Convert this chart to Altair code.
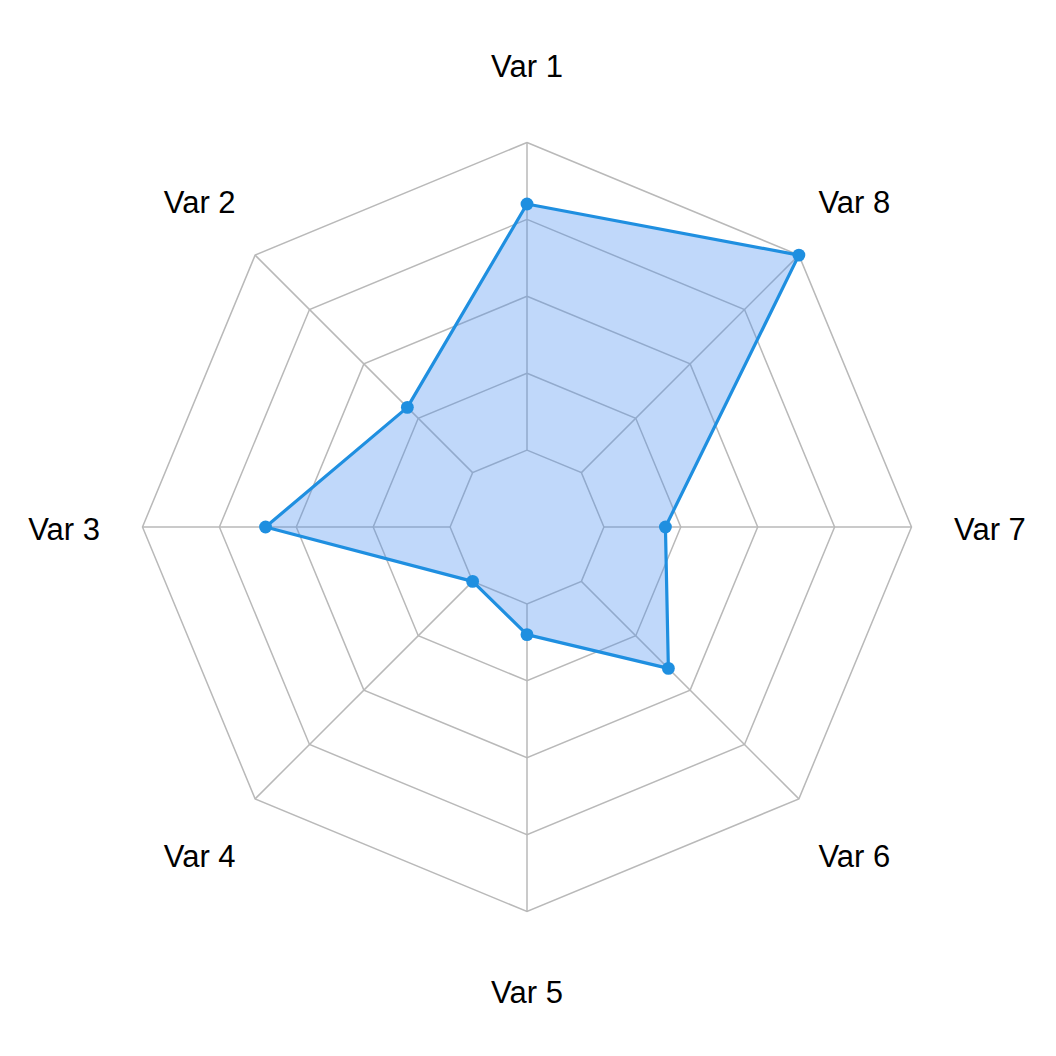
import altair as alt
import pandas as pd

# Radar chart: eight variables on a 0-10 scale, four grid segments,
# with the scale's minimum drawn on the innermost ring (fmsb style).
variables = ["Var 1", "Var 2", "Var 3", "Var 4", "Var 5", "Var 6", "Var 7", "Var 8"]
values = [8, 3, 6, 0, 1, 4, 2, 10]
v_min, v_max = 0, 10
segments = 4
ring_levels = [1, 2, 3, 4, 5]     # ring radii in plot units; 1 = minimum, 5 = maximum
label_radius = 6.02

# pixel geometry of the square canvas
SIZE = 1056
CENTER = 527
UNIT = 76.9
x_dom = [-CENTER / UNIT, (SIZE - CENTER) / UNIT]
y_dom = [-(SIZE - CENTER) / UNIT, CENTER / UNIT]

n = len(variables)
line_col = "#1f8fe0"
grid_col = "#b9b9b9"

x_scale = alt.Scale(domain=x_dom, nice=False, zero=False)
y_scale = alt.Scale(domain=y_dom, nice=False, zero=False)
X = alt.X("x:Q", scale=x_scale, axis=None)
Y = alt.Y("y:Q", scale=y_scale, axis=None)

# grid rings (closed octagons)
rings = pd.DataFrame(
    [{"ring": k, "idx": i, "r": k} for k in ring_levels for i in range(n + 1)]
)
ring_layer = (
    alt.Chart(rings)
    .transform_calculate(ang=f"PI / 2 + 2 * PI * datum.idx / {n}")
    .transform_calculate(x="datum.r * cos(datum.ang)", y="datum.r * sin(datum.ang)")
    .mark_line(color=grid_col, strokeWidth=1.5)
    .encode(x=X, y=Y, detail="ring:N", order="idx:Q")
)

# spokes from the innermost ring to the outer ring
spokes = pd.DataFrame({"idx": list(range(n))})
spoke_layer = (
    alt.Chart(spokes)
    .transform_calculate(ang=f"PI / 2 + 2 * PI * datum.idx / {n}")
    .transform_calculate(
        x=f"{ring_levels[0]} * cos(datum.ang)",
        y=f"{ring_levels[0]} * sin(datum.ang)",
        x2=f"{ring_levels[-1]} * cos(datum.ang)",
        y2=f"{ring_levels[-1]} * sin(datum.ang)",
    )
    .mark_rule(color=grid_col, strokeWidth=1.5)
    .encode(x=X, y=Y, x2="x2:Q", y2="y2:Q")
)

# data polygon
data = pd.DataFrame({"variable": variables, "value": values, "idx": list(range(n))})
closed = pd.concat([data, data.iloc[[0]].assign(idx=n)], ignore_index=True)

radius_expr = (
    f"{ring_levels[0]} + {segments} * (datum.value - {v_min}) / ({v_max} - {v_min})"
)

fill_layer = (
    alt.Chart(closed)
    .transform_calculate(r=radius_expr)
    .transform_calculate(ang=f"PI / 2 + 2 * PI * datum.idx / {n}")
    .transform_calculate(x="datum.r * cos(datum.ang)", y="datum.r * sin(datum.ang)")
    .mark_line(fill="#4a8ff2", fillOpacity=0.35, stroke=line_col, strokeWidth=3.2,
               strokeJoin="round")
    .encode(x=X, y=Y, order="idx:Q")
)

point_layer = (
    alt.Chart(data)
    .transform_calculate(r=radius_expr)
    .transform_calculate(ang=f"PI / 2 + 2 * PI * datum.idx / {n}")
    .transform_calculate(x="datum.r * cos(datum.ang)", y="datum.r * sin(datum.ang)")
    .mark_circle(color=line_col, size=165, opacity=1)
    .encode(x=X, y=Y)
)

# variable labels outside the outer ring
label_layer = (
    alt.Chart(data)
    .transform_calculate(ang=f"PI / 2 + 2 * PI * datum.idx / {n}")
    .transform_calculate(
        x=f"{label_radius} * cos(datum.ang)", y=f"{label_radius} * sin(datum.ang)"
    )
    .mark_text(font="Liberation Sans", fontSize=31, color="black",
               align="center", baseline="middle", dy=4)
    .encode(x=X, y=Y, text="variable:N")
)

chart = (
    alt.layer(ring_layer, spoke_layer, fill_layer, point_layer, label_layer)
    .properties(width=SIZE, height=SIZE, padding=0, autosize="none", background="white")
    .configure_view(stroke=None)
)

chart.save("out.html", embed_options={"renderer": "svg", "actions": False})
